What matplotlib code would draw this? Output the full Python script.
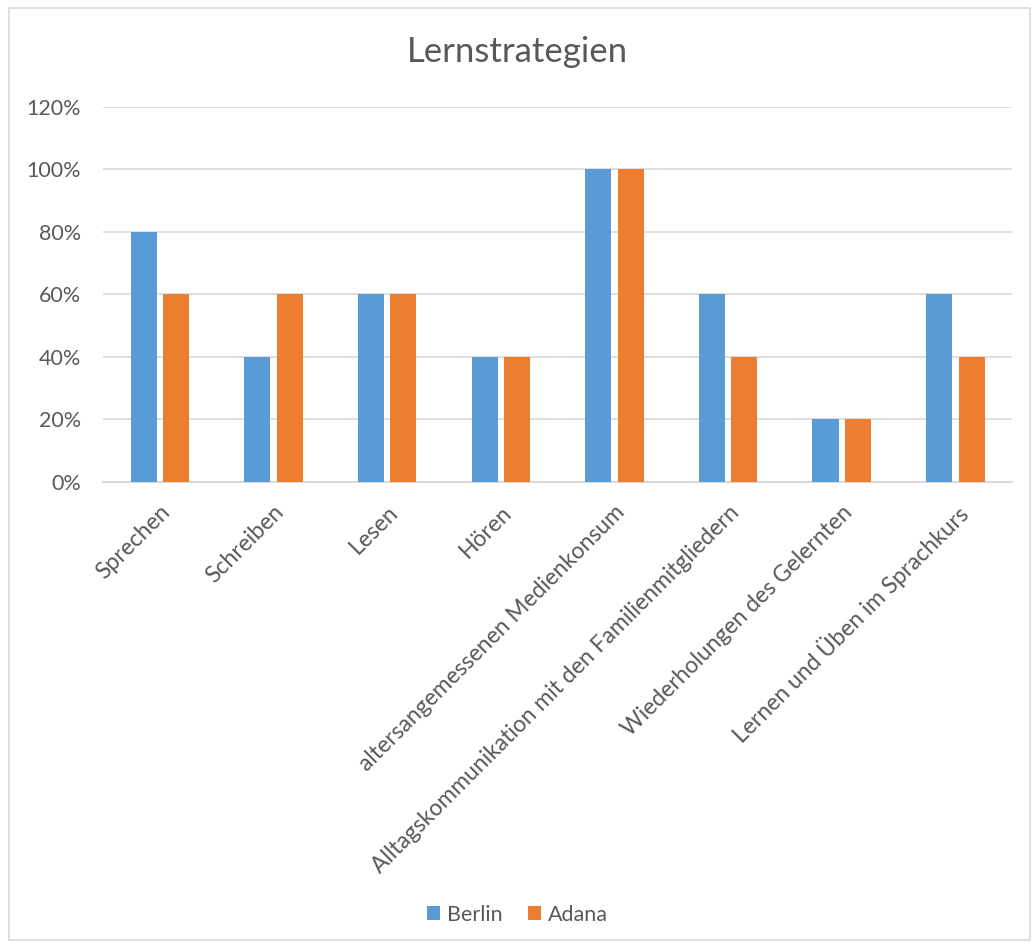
import numpy as np
import matplotlib.pyplot as plt
from matplotlib.patches import Rectangle
from matplotlib.ticker import PercentFormatter

plt.rcParams['font.family'] = ['Lato', 'DejaVu Sans']

categories = ['Sprechen', 'Schreiben', 'Lesen', 'Hören',
              'altersangemessenen Medienkonsum',
              'Alltagskommunikation mit den Familienmitgliedern',
              'Wiederholungen des Gelernten',
              'Lernen und Üben im Sprachkurs']
berlin = [0.8, 0.4, 0.6, 0.4, 1.0, 0.6, 0.2, 0.6]
adana = [0.6, 0.6, 0.6, 0.4, 1.0, 0.4, 0.2, 0.4]

blue = '#5b9bd5'
orange = '#ed7d31'
grey_text = '#595959'
grid_col = '#d9d9d9'

fig = plt.figure(figsize=(10.35, 9.46), dpi=100)
ax = fig.add_axes([0.0995, 0.4905, 0.8785, 0.3964])

x = np.arange(len(categories))
w = 0.23
gap = 0.055
ax.bar(x - (w + gap) / 2, berlin, w, color=blue, label='Berlin', zorder=3)
ax.bar(x + (w + gap) / 2, adana, w, color=orange, label='Adana', zorder=3)

ax.set_xlim(-0.5, len(categories) - 0.5)
ax.set_ylim(0, 1.2)
ax.set_yticks(np.arange(0, 1.21, 0.2))
ax.yaxis.set_major_formatter(PercentFormatter(1.0, decimals=0))
ax.grid(axis='y', color=grid_col, linewidth=1.2, zorder=0)
for s in ['top', 'right', 'left']:
    ax.spines[s].set_visible(False)
ax.spines['bottom'].set_color(grid_col)
ax.spines['bottom'].set_linewidth(1.5)
ax.tick_params(length=0, labelsize=15.5, colors=grey_text)
ax.tick_params(axis='y', pad=16)

ax.set_xticks(x)
ax.set_xticklabels(categories, rotation=45, ha='right', rotation_mode='anchor')
ax.tick_params(axis='x', pad=14, labelsize=16.5)

fig.text(0.5, 0.945, 'Lernstrategien', ha='center', va='center',
         fontsize=25, color=grey_text)

fig.legend(loc='center', bbox_to_anchor=(0.5, 0.033), ncol=2, frameon=False,
           fontsize=15.5, labelcolor=grey_text, handlelength=0.6, handleheight=0.6,
           handletextpad=0.3, columnspacing=1.2)

# light frame around the whole chart
fig.patches.append(Rectangle((0.009, 0.006), 0.986, 0.986, transform=fig.transFigure,
                             fill=False, edgecolor=grid_col, linewidth=1.2))

fig.savefig('out.png', dpi=100)
